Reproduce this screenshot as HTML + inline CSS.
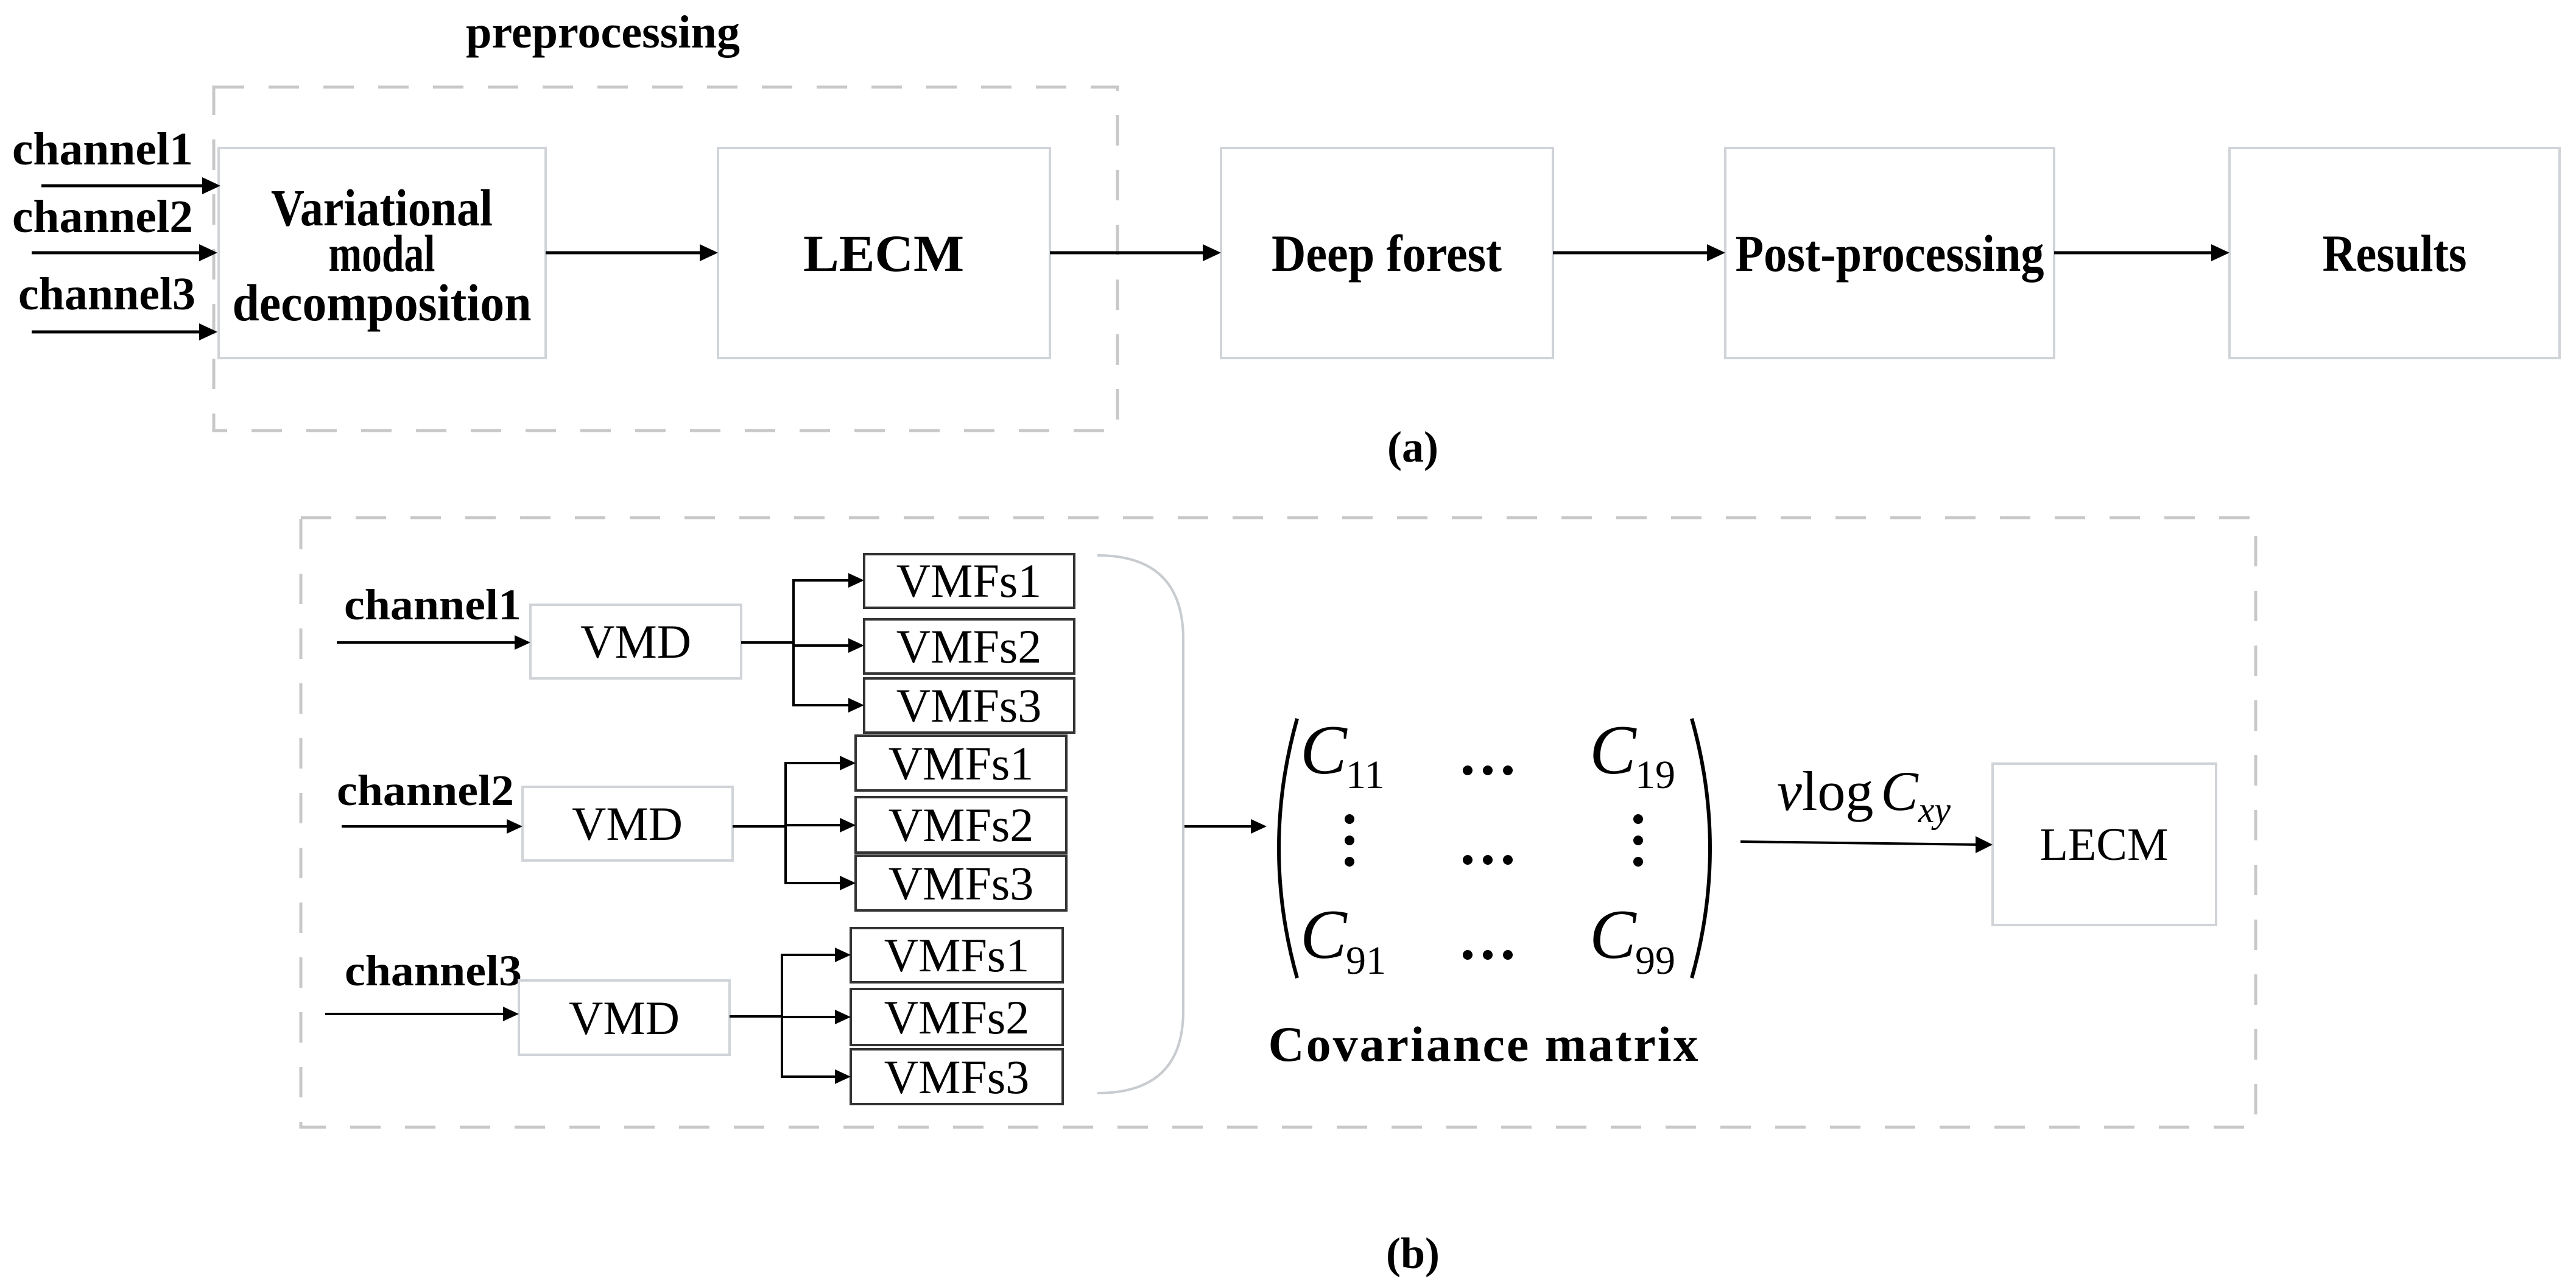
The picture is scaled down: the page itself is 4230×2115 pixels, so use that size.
<!DOCTYPE html>
<html><head><meta charset="utf-8"><style>
html,body{margin:0;padding:0;background:#fff;}
svg{display:block;}
text{font-family:"Liberation Serif",serif;fill:#000;}
.b{font-weight:bold;}
</style></head><body>
<svg width="4230" height="2115" viewBox="0 0 4230 2115" xmlns="http://www.w3.org/2000/svg">
<g id="a">
<text x="990" y="78" font-size="76" class="b" text-anchor="middle" textLength="450" lengthAdjust="spacingAndGlyphs">preprocessing</text>
<rect x="351" y="143" width="1484" height="564" fill="none" stroke="#c8c8c8" stroke-width="5" stroke-dasharray="50,40"/>
<g fill="#fff" stroke="#d0d4d8" stroke-width="4">
<rect x="359" y="243" width="537" height="345"/>
<rect x="1179" y="243" width="545" height="345"/>
<rect x="2005" y="243" width="545" height="345"/>
<rect x="2833" y="243" width="540" height="345"/>
<rect x="3661" y="243" width="542" height="345"/>
</g>
<g font-size="86" class="b" text-anchor="middle">
<text x="627" y="370" textLength="364" lengthAdjust="spacingAndGlyphs">Variational</text>
<text x="627" y="445" textLength="175" lengthAdjust="spacingAndGlyphs">modal</text>
<text x="627" y="526" textLength="491" lengthAdjust="spacingAndGlyphs">decomposition</text>
<text x="1451" y="445" textLength="264" lengthAdjust="spacingAndGlyphs">LECM</text>
<text x="2277" y="445" textLength="378" lengthAdjust="spacingAndGlyphs">Deep forest</text>
<text x="3103" y="445" textLength="507" lengthAdjust="spacingAndGlyphs">Post-processing</text>
<text x="3932" y="445" textLength="237" lengthAdjust="spacingAndGlyphs">Results</text>
</g>
<g font-size="76" class="b">
<text x="20" y="270" textLength="297" lengthAdjust="spacingAndGlyphs">channel1</text>
<text x="20" y="381" textLength="297" lengthAdjust="spacingAndGlyphs">channel2</text>
<text x="30" y="508" textLength="291" lengthAdjust="spacingAndGlyphs">channel3</text>
</g>
<g stroke="#000" stroke-width="5">
<line x1="68" y1="305" x2="340" y2="305"/>
<line x1="52" y1="415" x2="335" y2="415"/>
<line x1="52" y1="545" x2="335" y2="545"/>
<line x1="896" y1="415" x2="1160" y2="415"/>
<line x1="1724" y1="415" x2="1985" y2="415"/>
<line x1="2550" y1="415" x2="2813" y2="415"/>
<line x1="3373" y1="415" x2="3641" y2="415"/>
</g>
<g fill="#000">
<polygon points="362,305 332,291 332,319"/>
<polygon points="357,415 327,401 327,429"/>
<polygon points="357,545 327,531 327,559"/>
<polygon points="1179,415 1149,401 1149,429"/>
<polygon points="2005,415 1975,401 1975,429"/>
<polygon points="2833,415 2803,401 2803,429"/>
<polygon points="3661,415 3631,401 3631,429"/>
</g>
<text x="2320" y="758" font-size="72" class="b" text-anchor="middle">(a)</text>
</g>

<g id="bpart">
<rect x="494" y="850" width="3210" height="1001" fill="none" stroke="#c8c8c8" stroke-width="5" stroke-dasharray="50,40"/>
<g font-size="72" class="b">
<text x="565" y="1017" textLength="291" lengthAdjust="spacingAndGlyphs">channel1</text>
<text x="553" y="1322" textLength="291" lengthAdjust="spacingAndGlyphs">channel2</text>
<text x="566" y="1618" textLength="291" lengthAdjust="spacingAndGlyphs">channel3</text>
</g>
<g fill="#fff" stroke="#d0d4d8" stroke-width="4">
<rect x="871" y="993" width="346" height="121"/>
<rect x="858" y="1292" width="345" height="121"/>
<rect x="852" y="1610" width="346" height="122"/>
<rect x="3272" y="1254" width="367" height="265"/>
</g>
<g fill="#fff" stroke="#333" stroke-width="4">
<rect x="1419" y="910" width="345" height="88"/>
<rect x="1419" y="1017" width="345" height="89"/>
<rect x="1419" y="1114" width="345" height="89"/>
<rect x="1405" y="1208" width="346" height="90"/>
<rect x="1405" y="1309" width="346" height="91"/>
<rect x="1405" y="1405" width="346" height="90"/>
<rect x="1397" y="1524" width="348" height="89"/>
<rect x="1397" y="1624" width="348" height="92"/>
<rect x="1397" y="1723" width="348" height="90"/>
</g>
<g font-size="78" text-anchor="middle">
<text x="1044" y="1080">VMD</text>
<text x="1030" y="1379">VMD</text>
<text x="1025" y="1698">VMD</text>
<text x="1591" y="980">VMFs1</text>
<text x="1591" y="1088">VMFs2</text>
<text x="1591" y="1185">VMFs3</text>
<text x="1578" y="1280">VMFs1</text>
<text x="1578" y="1381">VMFs2</text>
<text x="1578" y="1477">VMFs3</text>
<text x="1571" y="1595">VMFs1</text>
<text x="1571" y="1697">VMFs2</text>
<text x="1571" y="1795">VMFs3</text>
<text x="3455" y="1412" font-size="76">LECM</text>
</g>
<g stroke="#000" stroke-width="4" fill="none">
<line x1="553" y1="1055" x2="860" y2="1055"/>
<line x1="561" y1="1357" x2="847" y2="1357"/>
<line x1="534" y1="1665" x2="841" y2="1665"/>
<polyline points="1217,1055 1303,1055"/>
<polyline points="1400,953 1303,953 1303,1158 1400,1158"/>
<line x1="1303" y1="1060" x2="1400" y2="1060"/>
<polyline points="1203,1357 1290,1357"/>
<polyline points="1386,1253 1290,1253 1290,1450 1386,1450"/>
<line x1="1290" y1="1355" x2="1386" y2="1355"/>
<polyline points="1198,1669 1284,1669"/>
<polyline points="1378,1568 1284,1568 1284,1768 1378,1768"/>
<line x1="1284" y1="1670" x2="1378" y2="1670"/>
<line x1="1943" y1="1357" x2="2060" y2="1357"/>
<line x1="2858" y1="1382" x2="3250" y2="1387"/>
</g>
<g fill="#000">
<polygon points="871,1055 845,1043 845,1067"/>
<polygon points="858,1357 832,1345 832,1369"/>
<polygon points="852,1665 826,1653 826,1677"/>
<polygon points="1419,953 1393,941 1393,965"/>
<polygon points="1419,1060 1393,1048 1393,1072"/>
<polygon points="1419,1158 1393,1146 1393,1170"/>
<polygon points="1405,1253 1379,1241 1379,1265"/>
<polygon points="1405,1355 1379,1343 1379,1367"/>
<polygon points="1405,1450 1379,1438 1379,1462"/>
<polygon points="1397,1568 1371,1556 1371,1580"/>
<polygon points="1397,1670 1371,1658 1371,1682"/>
<polygon points="1397,1768 1371,1756 1371,1780"/>
<polygon points="2080,1357 2054,1345 2054,1369"/>
<polygon points="3272,1387 3244,1373 3244,1401"/>
</g>
<path d="M1802,912 Q1943,912 1943,1050 L1943,1660 Q1943,1795 1802,1795" fill="none" stroke="#c8ccd0" stroke-width="4"/>
<path d="M2130,1180 Q2070,1393 2130,1606" fill="none" stroke="#000" stroke-width="6"/>
<path d="M2778,1180 Q2838,1393 2778,1606" fill="none" stroke="#000" stroke-width="6"/>
<g font-size="115" font-style="italic">
<text x="2135" y="1270">C</text>
<text x="2610" y="1270">C</text>
<text x="2135" y="1573">C</text>
<text x="2610" y="1573">C</text>
</g>
<g font-size="66">
<text x="2210" y="1294">11</text>
<text x="2685" y="1294">19</text>
<text x="2210" y="1599">91</text>
<text x="2685" y="1599">99</text>
</g>
<g fill="#000">
<circle cx="2410" cy="1265" r="8"/><circle cx="2443" cy="1265" r="8"/><circle cx="2476" cy="1265" r="8"/>
<circle cx="2410" cy="1412" r="8"/><circle cx="2443" cy="1412" r="8"/><circle cx="2476" cy="1412" r="8"/>
<circle cx="2410" cy="1568" r="8"/><circle cx="2443" cy="1568" r="8"/><circle cx="2476" cy="1568" r="8"/>
<circle cx="2216" cy="1345" r="8"/><circle cx="2216" cy="1380" r="8"/><circle cx="2216" cy="1415" r="8"/>
<circle cx="2690" cy="1345" r="8"/><circle cx="2690" cy="1380" r="8"/><circle cx="2690" cy="1415" r="8"/>
</g>
<text x="2918" y="1330" font-size="92"><tspan font-style="italic">v</tspan>log<tspan font-style="italic" dx="12">C</tspan><tspan font-style="italic" font-size="60" dy="20">xy</tspan></text>
<text x="2437" y="1742" font-size="82" class="b" text-anchor="middle" letter-spacing="3">Covariance matrix</text>
<text x="2320" y="2082" font-size="72" class="b" text-anchor="middle">(b)</text>
</g>
</svg>
</body></html>
